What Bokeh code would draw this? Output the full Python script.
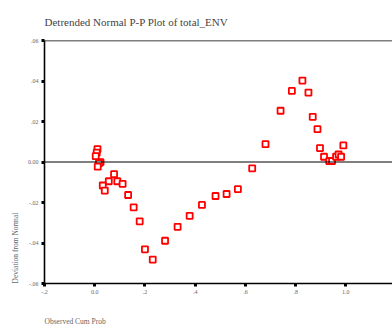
from bokeh.plotting import figure
from bokeh.models import FixedTicker, Span, Range1d, Title
from bokeh.embed import file_html
from bokeh.resources import INLINE

# Observed cumulative probability and deviation from normal
obs_cum_prob = [0.011, 0.008, 0.004, 0.023, 0.017, 0.012, 0.077, 0.056, 0.090, 0.111,
                0.032, 0.040, 0.133, 0.155, 0.179, 0.200, 0.231, 0.280, 0.330, 0.378,
                0.427, 0.481, 0.525, 0.570, 0.627, 0.680, 0.740, 0.785, 0.827, 0.851,
                0.868, 0.887, 0.897, 0.913, 0.934, 0.945, 0.961, 0.971, 0.981, 0.990]
deviation = [0.0064, 0.0046, 0.0029, -0.0001, -0.0006, -0.0023, -0.0060, -0.0095, -0.0095, -0.0108,
             -0.0116, -0.0141, -0.0163, -0.0224, -0.0293, -0.0431, -0.0482, -0.0389, -0.0320, -0.0266,
             -0.0212, -0.0168, -0.0158, -0.0134, -0.0031, 0.0088, 0.0253, 0.0351, 0.0402, 0.0343,
             0.0223, 0.0162, 0.0069, 0.0026, 0.0005, 0.0005, 0.0026, 0.0037, 0.0026, 0.0082]

x_ticks = [-0.2, 0.0, 0.2, 0.4, 0.6, 0.8, 1.0]
x_tick_labels = ["-.2", "0.0", ".2", ".4", ".6", ".8", "1.0"]
y_ticks = [-0.06, -0.04, -0.02, 0.0, 0.02, 0.04, 0.06]
y_tick_labels = ["-.06", "-.04", "-.02", "0.00", ".02", ".04", ".06"]

title_text = "Detrended Normal P-P Plot of total_ENV"
x_label = "Observed Cum Prob"
y_label = "Deviation from Normal"

SERIF = "Liberation Serif"

p = figure(width=392, height=325, output_backend="svg", toolbar_location=None,
           x_range=Range1d(-0.2, 1.1857), y_range=Range1d(-0.06, 0.06),
           min_border_left=44, min_border_right=0, min_border_top=39, min_border_bottom=40)
p.outline_line_color = None
p.background_fill_color = "white"
p.border_fill_color = "white"
p.xgrid.visible = False
p.ygrid.visible = False

for ax, ticks, labels in ((p.xaxis[0], x_ticks, x_tick_labels), (p.yaxis[0], y_ticks, y_tick_labels)):
    ax.ticker = FixedTicker(ticks=ticks)
    ax.major_label_overrides = dict(zip(ticks, labels))
    ax.axis_line_color = "black"
    ax.axis_line_width = 1.6
    ax.major_tick_line_color = "black"
    ax.major_tick_line_width = 3
    ax.major_tick_out = 3
    ax.major_tick_in = 0
    ax.minor_tick_line_color = None
    ax.major_label_text_font = SERIF
    ax.major_label_text_font_size = "6px"
    ax.major_label_text_color = "#666666"
    ax.major_label_standoff = 3

p.add_layout(Span(location=0.06, dimension="width", line_color="black", line_width=1.6))
p.add_layout(Span(location=0.0, dimension="width", line_color="black", line_width=1.2))

p.scatter(obs_cum_prob, deviation, marker="square", size=6,
          fill_color="white", line_color="#ff0000", line_width=1.8)

p.title.text = title_text
p.title.align = "left"
p.title.text_font = SERIF
p.title.text_font_size = "11px"
p.title.text_font_style = "normal"
p.title.text_color = "#444444"
p.title.standoff = 26

# spacer between the x axis and its label
p.add_layout(Title(text=" ", text_font_size="1px", standoff=15), "below")
p.add_layout(Title(text=x_label, align="left", text_font=SERIF, text_font_size="7.5px",
                   text_font_style="normal", text_color="#666666", standoff=0,
                   vertical_align="bottom"), "below")
p.add_layout(Title(text=y_label, align="left", text_font=SERIF, text_font_size="7.5px",
                   text_font_style="normal", text_color="#666666", standoff=10), "left")

open("out.html", "w").write(file_html(p, INLINE))
